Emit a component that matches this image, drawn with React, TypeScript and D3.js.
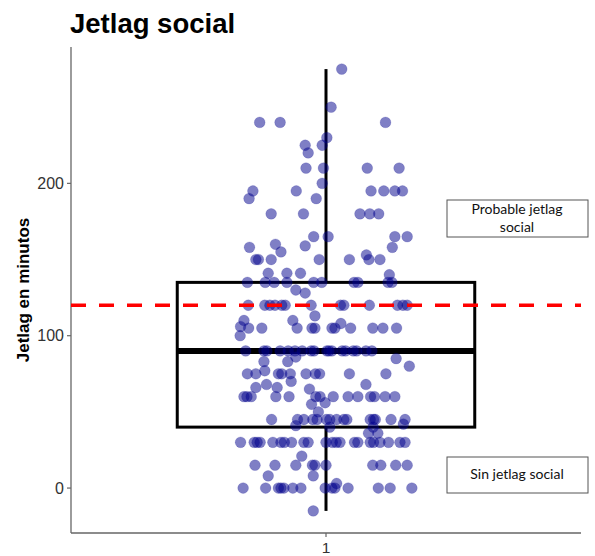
import React from "react";
import * as d3 from "d3";

// ---- data ----
const title = "Jetlag social";
const yLabel = "Jetlag en minutos";
const categories = ["1"];
const yTicks = [0, 100, 200];
const refLine = 120;
const boxStats = { low: -15, q1: 40, median: 90, q3: 135, high: 275 };
const notes = ["Probable jetlag social", "Sin jetlag social"];

// values (minutes) and horizontal jitter (category units)
const values: number[] = [
  275, 250, 240, 240, 240, 230, 225, 225, 220, 210, 210, 210, 210, 200,
  195, 190, 195, 190, 195, 195, 195, 195, 180, 180, 180, 180, 180,
  165, 165, 165, 165, 158, 160, 155, 159, 158,
  150, 150, 150, 150, 150, 153, 150, 150, 141, 141, 141, 140,
  135, 135, 135, 135, 135, 135, 135, 135, 135, 135, 130, 128,
  120, 120, 120, 120, 120, 120, 120, 120, 120, 120, 120, 120, 120,
  113, 110, 110, 108, 106,
  105, 105, 105, 105, 105, 105, 105, 105, 105, 105, 105, 100,
  90, 90, 90, 90, 90, 90, 90, 90, 90, 90, 90, 90, 90, 90, 90, 90, 90, 90,
  85, 80, 83, 83, 86,
  75, 75, 77, 75, 75, 75, 75, 75, 75, 75, 75, 70, 68, 68, 66, 66, 65,
  60, 60, 60, 60, 60, 60, 60, 60, 60, 60, 60, 60, 60, 60,
  55, 56, 50,
  45, 45, 45, 45, 45, 45, 45, 45, 45, 45, 45, 45, 45, 45, 45,
  41, 40, 36, 36, 42, 40,
  30, 30, 30, 30, 30, 30, 30, 30, 30, 30, 30, 30, 30, 30, 30, 30, 30, 30, 30, 30, 30, 30,
  21, 15, 15, 15, 15, 15, 15, 15, 15, 15, 15, 8, 8,
  0, 0, 0, 0, 0, 0, 0, 0, 0, 0, 3, 0, 0, 0, 0, -15,
];
const jitter: number[] = [
  0.037, 0.012, -0.156, -0.108, 0.14, 0.002, -0.049, -0.009, -0.042, -0.047, -0.006, 0.097, 0.172, -0.009,
  -0.172, -0.181, -0.07, -0.023, 0.106, 0.136, 0.162, 0.18, -0.129, -0.053, 0.08, 0.103, 0.124,
  -0.029, 0.005, 0.162, 0.191, -0.18, -0.119, -0.106, -0.049, 0.156,
  -0.165, -0.159, -0.129, -0.016, 0.055, 0.095, 0.101, 0.127, -0.136, -0.092, -0.06, 0.149,
  -0.185, -0.143, -0.122, -0.092, -0.029, -0.01, 0.066, 0.075, 0.146, 0.155, -0.071, -0.049,
  -0.183, -0.144, -0.132, -0.12, -0.104, -0.096, -0.035, 0.034, 0.042, 0.102, 0.168, 0.181, 0.191,
  -0.026, -0.193, -0.078, 0.035, -0.201,
  -0.182, -0.151, -0.068, -0.033, -0.026, 0.014, 0.021, 0.058, 0.11, 0.134, 0.166, -0.202,
  -0.189, -0.146, -0.139, -0.108, -0.089, -0.073, -0.056, -0.035, -0.028, 0.002, 0.007, 0.014, 0.038, 0.046, 0.064, 0.072, 0.094, 0.108,
  0.165, 0.196, -0.146, -0.09, -0.071,
  -0.185, -0.165, -0.144, -0.112, -0.104, -0.084, -0.047, -0.025, -0.015, 0.055, 0.141, -0.082, -0.14, 0.094, -0.165, -0.115, -0.039,
  -0.193, -0.186, -0.176, -0.118, -0.087, -0.024, -0.014, 0.017, 0.052, 0.075, 0.105, 0.114, 0.139, 0.162,
  -0.034, -0.002, -0.018,
  -0.128, -0.067, -0.052, -0.031, -0.021, 0.001, 0.009, 0.025, 0.042, 0.049, 0.104, 0.112, 0.116, 0.153, 0.186,
  -0.071, 0.009, 0.1, 0.122, 0.182, 0.111,
  -0.201, -0.169, -0.162, -0.155, -0.125, -0.106, -0.098, -0.081, -0.052, -0.042, 0.0, 0.015, 0.024, 0.033, 0.067, 0.075, 0.104, 0.112, 0.127, 0.147, 0.174, 0.186,
  -0.057, -0.167, -0.12, -0.071, -0.032, -0.026, 0.0, 0.11, 0.129, 0.164, 0.191, -0.136, -0.03,
  -0.195, -0.142, -0.112, -0.106, -0.099, -0.078, -0.059, -0.002, 0.014, 0.021, 0.025, 0.052, 0.123, 0.151, 0.202, -0.03,
];

const W = 595;
const H = 556;
const panel = { left: 71, right: 581, top: 47, bottom: 533 };

export default function App() {
  const x = d3.scaleLinear().domain([0.4, 1.6]).range([panel.left, panel.right]);
  const y = d3.scaleLinear().domain([-29.5, 289.5]).range([panel.bottom, panel.top]);
  const cx = x(1);
  const bw = 0.35;
  const font = "'Liberation Sans', Arial, sans-serif";
  const noteFont = "Lato, 'Open Sans', sans-serif";
  const pts = values.map((v, i) => ({ v, j: jitter[i] ?? 0 }));

  return (
    <svg
      width={W}
      height={H}
      style={{ position: "absolute", left: 0, top: 0, background: "#fff" }}
      fontFamily={font}
    >
      <rect x={0} y={0} width={W} height={H} fill="#fff" />
      <text x={70} y={33} fontSize={27.5} fontWeight="bold" fill="#000">
        {title}
      </text>

      {/* axes */}
      <line x1={panel.left} x2={panel.left} y1={panel.top} y2={panel.bottom} stroke="#666" strokeWidth={1.3} />
      <line x1={panel.left} x2={panel.right} y1={panel.bottom} y2={panel.bottom} stroke="#666" strokeWidth={1.3} />
      {yTicks.map((t) => (
        <g key={t}>
          <line x1={panel.left - 4} x2={panel.left} y1={y(t)} y2={y(t)} stroke="#666" strokeWidth={1.2} />
          <text x={panel.left - 7} y={y(t)} dy="0.36em" textAnchor="end" fontSize={16} fill="#333">
            {t}
          </text>
        </g>
      ))}
      {categories.map((c, i) => (
        <g key={c}>
          <line x1={x(i + 1)} x2={x(i + 1)} y1={panel.bottom} y2={panel.bottom + 4} stroke="#666" strokeWidth={1.2} />
          <text x={x(i + 1)} y={panel.bottom + 20} textAnchor="middle" fontSize={15.5} fill="#333">
            {c}
          </text>
        </g>
      ))}
      <text
        transform={`translate(29, ${(panel.top + panel.bottom) / 2}) rotate(-90)`}
        textAnchor="middle"
        fontSize={17}
        fontWeight="bold"
        fill="#000"
      >
        {yLabel}
      </text>

      {/* boxplot */}
      <line x1={cx} x2={cx} y1={y(boxStats.q3)} y2={y(boxStats.high)} stroke="#000" strokeWidth={3} />
      <line x1={cx} x2={cx} y1={y(boxStats.q1)} y2={y(boxStats.low)} stroke="#000" strokeWidth={3} />
      <rect
        x={x(1 - bw)}
        y={y(boxStats.q3)}
        width={x(1 + bw) - x(1 - bw)}
        height={y(boxStats.q1) - y(boxStats.q3)}
        fill="none"
        stroke="#000"
        strokeWidth={3}
      />
      <line x1={x(1 - bw)} x2={x(1 + bw)} y1={y(boxStats.median)} y2={y(boxStats.median)} stroke="#000" strokeWidth={6} />

      {/* points */}
      {pts.map((p, i) => (
        <circle key={i} cx={x(1 + p.j)} cy={y(p.v)} r={5.4} fill="#00008B" fillOpacity={0.5} stroke="#00008B" strokeOpacity={0.25} strokeWidth={0.6} />
      ))}

      {/* reference line */}
      <line
        x1={panel.left}
        x2={panel.right}
        y1={y(refLine)}
        y2={y(refLine)}
        stroke="#FF0000"
        strokeWidth={3.5}
        strokeDasharray="15 13"
      />

      {/* notes */}
      <rect x={447} y={200} width={141} height={37} fill="#fff" stroke="#555" strokeWidth={1} />
      <text x={517} y={214} textAnchor="middle" fontSize={14} fontFamily={noteFont} fill="#111">
        Probable jetlag
      </text>
      <text x={517} y={232} textAnchor="middle" fontSize={14} fontFamily={noteFont} fill="#111">
        social
      </text>
      <rect x={447} y={457} width={141} height={36} fill="#fff" stroke="#555" strokeWidth={1} />
      <text x={517} y={479} textAnchor="middle" fontSize={14} fontFamily={noteFont} fill="#111">
        {notes[1]}
      </text>
    </svg>
  );
}
